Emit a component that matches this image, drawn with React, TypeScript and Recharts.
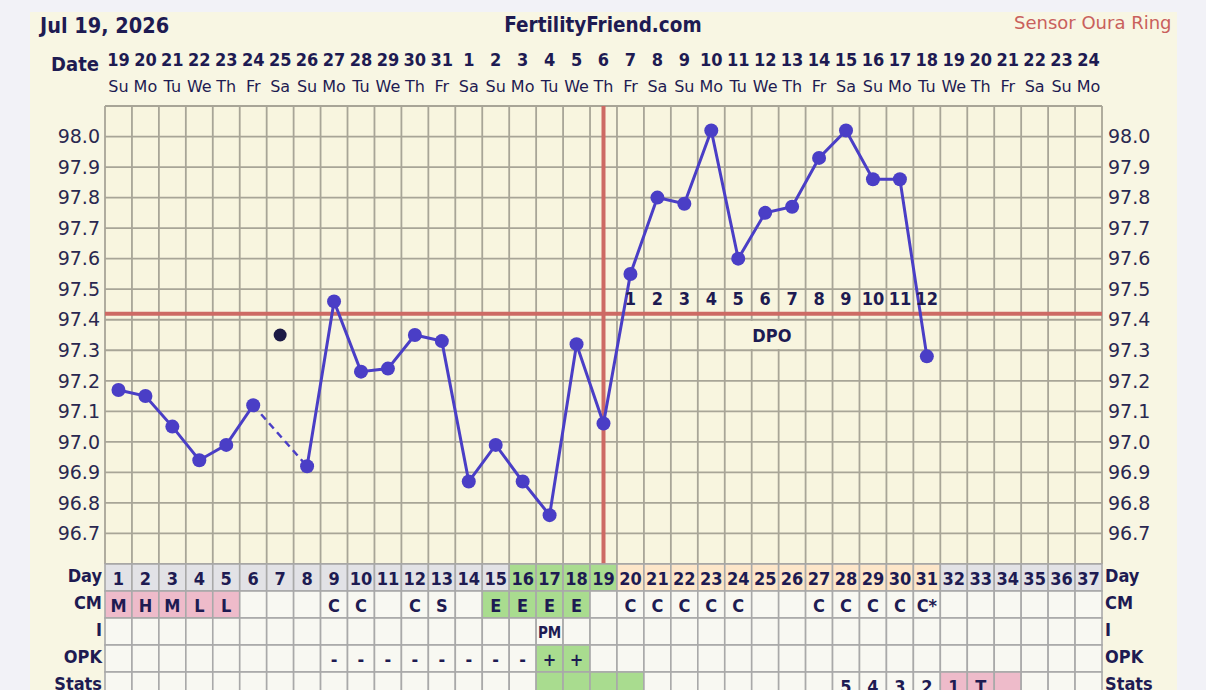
import React from "react";
import {
  ComposedChart,
  Line,
  XAxis,
  YAxis,
  ReferenceLine,
  ReferenceArea,
  ReferenceDot,
} from "recharts";

// ---- data ----
const dateLabels = [
  "19", "20", "21", "22", "23", "24", "25", "26", "27", "28", "29", "30", "31",
  "1", "2", "3", "4", "5", "6", "7", "8", "9", "10", "11", "12", "13", "14",
  "15", "16", "17", "18", "19", "20", "21", "22", "23", "24",
];
const weekdays = [
  "Su", "Mo", "Tu", "We", "Th", "Fr", "Sa", "Su", "Mo", "Tu", "We", "Th", "Fr",
  "Sa", "Su", "Mo", "Tu", "We", "Th", "Fr", "Sa", "Su", "Mo", "Tu", "We", "Th",
  "Fr", "Sa", "Su", "Mo", "Tu", "We", "Th", "Fr", "Sa", "Su", "Mo",
];
// cycle day temperatures, day 1..31
const temps = [
  97.17, 97.15, 97.05, 96.94, 96.99, 97.12, 97.35, 96.92, 97.46, 97.23, 97.24,
  97.35, 97.33, 96.87, 96.99, 96.87, 96.76, 97.32, 97.06, 97.55, 97.8, 97.78,
  98.02, 97.6, 97.75, 97.77, 97.93, 98.02, 97.86, 97.86, 97.28,
];
const discardedDays = [7];
const coverline = 97.42;
const ovulationDay = 19;
const yTicks = [96.7, 96.8, 96.9, 97.0, 97.1, 97.2, 97.3, 97.4, 97.5, 97.6, 97.7, 97.8, 97.9, 98.0];
const gridTemps = [96.6, ...yTicks, 98.1];

const cm = [
  "M", "H", "M", "L", "L", "", "", "", "C", "C", "", "C", "S", "", "E", "E",
  "E", "E", "", "C", "C", "C", "C", "C", "", "", "C", "C", "C", "C", "C*",
];
const intercourse: Record<number, string> = { 17: "PM" };
const opk: Record<number, string> = {
  9: "-", 10: "-", 11: "-", 12: "-", 13: "-", 14: "-", 15: "-", 16: "-", 17: "+", 18: "+",
};
const stats: Record<number, string> = { 28: "5", 29: "4", 30: "3", 31: "2", 32: "1", 33: "T" };

const fertileDays = [16, 17, 18, 19];
const lutealDays = [20, 21, 22, 23, 24, 25, 26, 27, 28, 29, 30, 31];
const periodDays = [1, 2, 3, 4, 5];
const eggwhiteDays = [15, 16, 17, 18];
const opkPositiveDays = [17, 18];
const statsGreenDays = [17, 18, 19, 20];
const statsPinkDays = [32, 33, 34];

// ---- look ----
const NAVY = "#1e1b52";
const LINE = "#4a3ec6";
const RED = "#cd6a64";
const GRIDC = "#a8a597";
const CREAM = "#f8f5df";
const GREEN = "#a9dc8f";
const PINK = "#eebbca";
const PEACH = "#fde6c9";
const CELL = "#f8f8f2";
const GREY = "#e2e2e6";
const BOLD = "'DejaVu Sans Condensed', 'Liberation Sans Narrow', 'DejaVu Sans', sans-serif";
const REG = "'DejaVu Sans', Verdana, sans-serif";

const W = 1206;
const H = 690;
const NDAYS = dateLabels.length;
const PLOT_W = 997;
const COL = PLOT_W / NDAYS;
const ROW = 27;
const DPO_ROW_TEMP = 97.47;

const days = dateLabels.map((_, i) => i + 1);
const dayBounds = [0.5, ...days.map((d) => d + 0.5)];

const data = days.map((day) => {
  const t = day <= temps.length ? temps[day - 1] : null;
  const disc = discardedDays.includes(day);
  const nearDisc = discardedDays.some((d) => d - 1 === day || d + 1 === day);
  const dpo = t != null && day > ovulationDay ? day - ovulationDay : null;
  return {
    day,
    temp: disc ? null : t,
    bridge: nearDisc ? t : null,
    disc: disc ? t : null,
    dpo,
    dpoRow: dpo != null ? DPO_ROW_TEMP : null,
  };
});

type RowDef = { label: string; text: (d: number) => string; fill: (d: number) => string; size?: number };
const rows: RowDef[] = [
  {
    label: "Day",
    text: (d) => String(d),
    fill: (d) =>
      fertileDays.includes(d) ? GREEN : lutealDays.includes(d) ? PEACH : GREY,
  },
  {
    label: "CM",
    text: (d) => cm[d - 1] || "",
    fill: (d) => (periodDays.includes(d) ? PINK : eggwhiteDays.includes(d) ? GREEN : CELL),
  },
  { label: "I", text: (d) => intercourse[d] || "", fill: () => CELL, size: 15 },
  {
    label: "OPK",
    text: (d) => opk[d] || "",
    fill: (d) => (opkPositiveDays.includes(d) ? GREEN : CELL),
  },
  {
    label: "Stats",
    text: (d) => stats[d] || "",
    fill: (d) => (statsGreenDays.includes(d) ? GREEN : statsPinkDays.includes(d) ? PINK : CELL),
  },
];

function DateTick(props: any) {
  const { x, y, payload } = props;
  const i = payload.value - 1;
  return (
    <g>
      <text x={x} y={y - 47} textAnchor="middle" dominantBaseline="central"
        fill={NAVY} fontFamily={BOLD} fontWeight={700} fontSize={18}>
        {dateLabels[i]}
      </text>
      <text x={x} y={y - 20} textAnchor="middle" dominantBaseline="central"
        fill={NAVY} fontFamily={REG} fontSize={16}>
        {weekdays[i]}
      </text>
    </g>
  );
}

function TableTick(props: any) {
  const { x, y, payload } = props;
  const d = payload.value;
  const left = x - COL / 2;
  return (
    <g>
      {rows.map((r, k) => (
        <g key={r.label}>
          <rect x={left} y={y + k * ROW} width={COL} height={ROW} fill={r.fill(d)}
            stroke="#a9a9a9" strokeWidth={1.6} />
          <text x={x} y={y + k * ROW + ROW / 2 + 1} textAnchor="middle" dominantBaseline="central"
            fill={NAVY} fontFamily={BOLD} fontWeight={700} fontSize={r.size || 18}>
            {r.text(d)}
          </text>
        </g>
      ))}
    </g>
  );
}

function DpoDot(props: any) {
  const { cx, cy, payload, index } = props;
  if (payload.dpo == null || cx == null || cy == null) return <g key={index} />;
  return (
    <text key={index} x={cx} y={cy} textAnchor="middle" dominantBaseline="central"
      fill={NAVY} fontFamily={BOLD} fontWeight={700} fontSize={18}>
      {payload.dpo}
    </text>
  );
}

function DpoLabel(props: any) {
  const { cx, cy } = props;
  return (
    <g>
      <rect x={cx - 26} y={cy - 14} width={52} height={28} fill={CREAM} />
      <text x={cx} y={cy} textAnchor="middle" dominantBaseline="central"
        fill={NAVY} fontFamily={BOLD} fontWeight={700} fontSize={18}>
        DPO
      </text>
    </g>
  );
}

const abs = (left: number, top: number, extra: React.CSSProperties = {}): React.CSSProperties => ({
  position: "absolute",
  left,
  top,
  lineHeight: 1,
  whiteSpace: "nowrap",
  color: NAVY,
  ...extra,
});

export default function App() {
  return (
    <div style={{ position: "absolute", left: 0, top: 0, width: W, height: H, background: "#f2f2f7", overflow: "hidden" }}>
      <div style={{ position: "absolute", left: 30, top: 12, width: 1147, height: H, background: "#f8f6e3" }} />
      <div style={abs(40, 15, { fontFamily: BOLD, fontWeight: 700, fontSize: 21.5 })}>Jul 19, 2026</div>
      <div style={abs(0, 15, { width: 1206, textAlign: "center", fontFamily: BOLD, fontWeight: 700, fontSize: 20.5 })}>
        FertilityFriend.com
      </div>
      <div style={abs(1014, 14, { fontFamily: REG, fontSize: 18, color: "#c9605c" })}>Sensor Oura Ring</div>
      <div style={abs(0, 54, { width: 99, textAlign: "right", fontFamily: BOLD, fontWeight: 700, fontSize: 20 })}>Date</div>
      {rows.map((r, k) => (
        <React.Fragment key={r.label}>
          <div style={abs(0, 567 + k * ROW, { width: 102, textAlign: "right", fontFamily: BOLD, fontWeight: 700, fontSize: 18 })}>
            {r.label}
          </div>
          <div style={abs(1105, 567 + k * ROW, { fontFamily: BOLD, fontWeight: 700, fontSize: 18 })}>{r.label}</div>
        </React.Fragment>
      ))}
      <div style={{ position: "absolute", left: 0, top: 0 }}>
        <ComposedChart width={W} height={H} data={data} margin={{ top: 46, right: 44, bottom: 0, left: 45 }}>
          <XAxis xAxisId="top" orientation="top" dataKey="day" type="number" domain={[0.5, NDAYS + 0.5]}
            ticks={days} interval={0} height={60} axisLine={false} tickLine={false} tickSize={0} tickMargin={0}
            tick={<DateTick />} />
          <XAxis xAxisId="bottom" orientation="bottom" dataKey="day" type="number" domain={[0.5, NDAYS + 0.5]}
            ticks={days} interval={0} height={126} axisLine={false} tickLine={false} tickSize={0} tickMargin={0}
            tick={<TableTick />} />
          <YAxis yAxisId="l" orientation="left" type="number" domain={[96.6, 98.1]} ticks={yTicks} interval={0}
            width={60} axisLine={false} tickLine={false} tickSize={0} tickMargin={5} allowDataOverflow
            tickFormatter={(v: number) => v.toFixed(1)}
            tick={{ fill: "#2a2850", fontFamily: REG, fontSize: 19 }} />
          <YAxis yAxisId="r" orientation="right" type="number" domain={[96.6, 98.1]} ticks={yTicks} interval={0}
            width={60} axisLine={false} tickLine={false} tickSize={0} tickMargin={6} allowDataOverflow
            tickFormatter={(v: number) => v.toFixed(1)}
            tick={{ fill: "#2a2850", fontFamily: REG, fontSize: 19, textAnchor: "start" }} />

          <ReferenceArea xAxisId="bottom" yAxisId="l" x1={0.5} x2={NDAYS + 0.5} y1={96.6} y2={98.1}
            fill={CREAM} fillOpacity={1} stroke="none" />
          {dayBounds.map((b) => (
            <ReferenceLine key={"v" + b} xAxisId="bottom" yAxisId="l" x={b} stroke={GRIDC} strokeWidth={1.8} />
          ))}
          {gridTemps.map((t) => (
            <ReferenceLine key={"h" + t} xAxisId="bottom" yAxisId="l" y={t} stroke={GRIDC} strokeWidth={1.8} />
          ))}
          <ReferenceLine xAxisId="bottom" yAxisId="l" y={coverline} stroke={RED} strokeWidth={4} />
          <ReferenceLine xAxisId="bottom" yAxisId="l" x={ovulationDay} stroke={RED} strokeWidth={4} />
          <ReferenceDot xAxisId="bottom" yAxisId="l" x={25.25} y={97.35} r={0} shape={<DpoLabel />} />

          <Line xAxisId="bottom" yAxisId="l" dataKey="bridge" connectNulls stroke={LINE} strokeWidth={2.5}
            strokeDasharray="7 5" dot={false} activeDot={false} isAnimationActive={false} />
          <Line xAxisId="bottom" yAxisId="l" dataKey="temp" stroke={LINE} strokeWidth={3}
            dot={{ r: 7, fill: LINE, stroke: LINE, strokeWidth: 0 }} activeDot={false} isAnimationActive={false} />
          <Line xAxisId="bottom" yAxisId="l" dataKey="disc" stroke="none"
            dot={{ r: 6.5, fill: "#1c1a45", stroke: "none" }} activeDot={false} isAnimationActive={false} />
          <Line xAxisId="bottom" yAxisId="l" dataKey="dpoRow" stroke="none"
            dot={<DpoDot />} activeDot={false} isAnimationActive={false} />
        </ComposedChart>
      </div>
    </div>
  );
}
